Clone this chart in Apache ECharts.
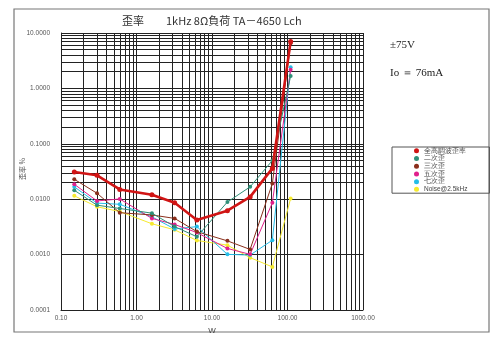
<!DOCTYPE html>
<html><head><meta charset="utf-8">
<script src="https://cdn.jsdelivr.net/npm/echarts@6/dist/echarts.min.js"></script>
<style>html,body{margin:0;padding:0;background:#fff}#c{width:500px;height:344px}</style>
</head><body><div id="c"></div>
<script>
// Output power (W)
const powerW = [0.15, 0.3, 0.6, 1.6, 3.2, 6.3, 16, 32, 63, 110];
// Distortion (%)
const thd     = [0.031, 0.027, 0.015, 0.012, 0.0086, 0.0042, 0.0062, 0.011, 0.036, 7.0];
const h2      = [0.0145, 0.0078, 0.0068, 0.0056, 0.0032, 0.0021, 0.0089, 0.0167, 0.050, 1.67];
const h3      = [0.0229, 0.0128, 0.0057, 0.0052, 0.0045, 0.0026, 0.00177, 0.00124, 0.0192, 6.5];
const h5      = [0.0186, 0.0093, 0.0101, 0.0045, 0.0035, 0.0025, 0.00129, 0.00101, 0.0086, 2.17];
const h7      = [0.0167, 0.0085, 0.0081, 0.0048, 0.0029, 0.0032, 0.00101, 0.00098, 0.00182, 2.42];
const noise   = [0.0115, 0.0073, 0.0060, 0.0036, 0.0028, 0.0018, 0.00148, 0.00088, 0.0006, 0.0103];
const seriesNames = ['全高調波歪率', '二次歪', '三次歪', '五次歪', '七次歪', 'Noise@2.5kHz'];
const seriesColors = ['#d01414', '#2f8f78', '#8a2f1c', '#e0208c', '#24bde8', '#f6ea2e'];
const seriesData = [thd, h2, h3, h5, h7, noise];
// Axis ranges / tick labels
const xDecades = [0.1, 1, 10, 100];
const yDecades = [0.0001, 0.001, 0.01, 0.1, 1];
const titleText = '歪率　　1kHz 8Ω負荷 TA－4650 Lch';

const gridStyle = {color: '#222', width: 1, type: 'solid'};
const markData = [];
xDecades.forEach(d => { for (let m = 2; m <= 9; m++) markData.push({xAxis: d * m}); });
yDecades.forEach(d => { for (let m = 2; m <= 9; m++) markData.push({yAxis: d * m}); });

const series = seriesData.map((arr, i) => ({
  name: seriesNames[i],
  type: 'line',
  data: powerW.map((p, j) => [p, arr[j]]),
  symbol: 'circle',
  symbolSize: i === 0 ? 5 : 4,
  color: seriesColors[i],
  lineStyle: {width: i === 0 ? 2.6 : 1, color: seriesColors[i]},
  itemStyle: {color: seriesColors[i]},
  z: 10 - i + 5,
  animation: false
}));
series.push({
  name: 'grid', type: 'line', data: [], z: 1, silent: true, animation: false,
  markLine: {silent: true, symbol: 'none', label: {show: false}, animation: false,
    lineStyle: gridStyle, emphasis: {disabled: true}, data: markData}
});

const chart = echarts.init(document.getElementById('c'), null, {renderer: 'canvas'});
chart.setOption({
  backgroundColor: '#fff',
  animation: false,
  title: {text: titleText, left: 117, top: 10,
    textStyle: {fontSize: 11, fontWeight: 'normal', color: '#333', fontFamily: 'Noto Sans CJK JP'}},
  graphic: [
    {type: 'rect', shape: {x: 14, y: 9, width: 475, height: 323}, style: {fill: 'none', stroke: '#777', lineWidth: 1.2}, z: 0},
    {type: 'text', left: 390, top: 40, style: {text: '±75V', font: '11px "Liberation Serif"', fill: '#222'}},
    {type: 'text', left: 390, top: 68, style: {text: 'Io ＝ 76mA', font: '11px "Liberation Serif"', fill: '#222'}},
    {type: 'text', x: 22, y: 169, rotation: Math.PI / 2,
      style: {text: '歪率 %', font: '7px "Noto Sans CJK JP"', fill: '#555', align: 'center', verticalAlign: 'middle'}}
  ],
  legend: {
    data: seriesNames, orient: 'vertical', left: 392, top: 147,
    icon: 'circle', itemWidth: 5, itemHeight: 5, itemGap: 0,
    padding: [0, 22, 0, 22], borderColor: '#555', borderWidth: 1,
    textStyle: {fontSize: 6.5, color: '#444', lineHeight: 7.7, padding: [0, 0, 0, 0]}
  },
  grid: {left: 61, top: 33, width: 302, height: 277, containLabel: false},
  xAxis: {
    type: 'log', logBase: 10, min: 0.1, max: 1000,
    name: 'W', nameLocation: 'middle', nameGap: 16,
    nameTextStyle: {fontSize: 8, color: '#444'},
    axisLine: {show: true, lineStyle: {color: '#222', width: 1}},
    axisTick: {show: false},
    axisLabel: {fontSize: 6.5, color: '#555', margin: 5, formatter: v => Number(v).toFixed(2)},
    splitLine: {show: true, lineStyle: gridStyle}
  },
  yAxis: {
    type: 'log', logBase: 10, min: 0.0001, max: 10,
    axisLine: {show: true, lineStyle: {color: '#222', width: 1}},
    axisTick: {show: false},
    axisLabel: {fontSize: 6.5, color: '#555', margin: 11, formatter: v => Number(v).toFixed(4)},
    splitLine: {show: true, lineStyle: gridStyle}
  },
  series: series
});
</script>
</body></html>
